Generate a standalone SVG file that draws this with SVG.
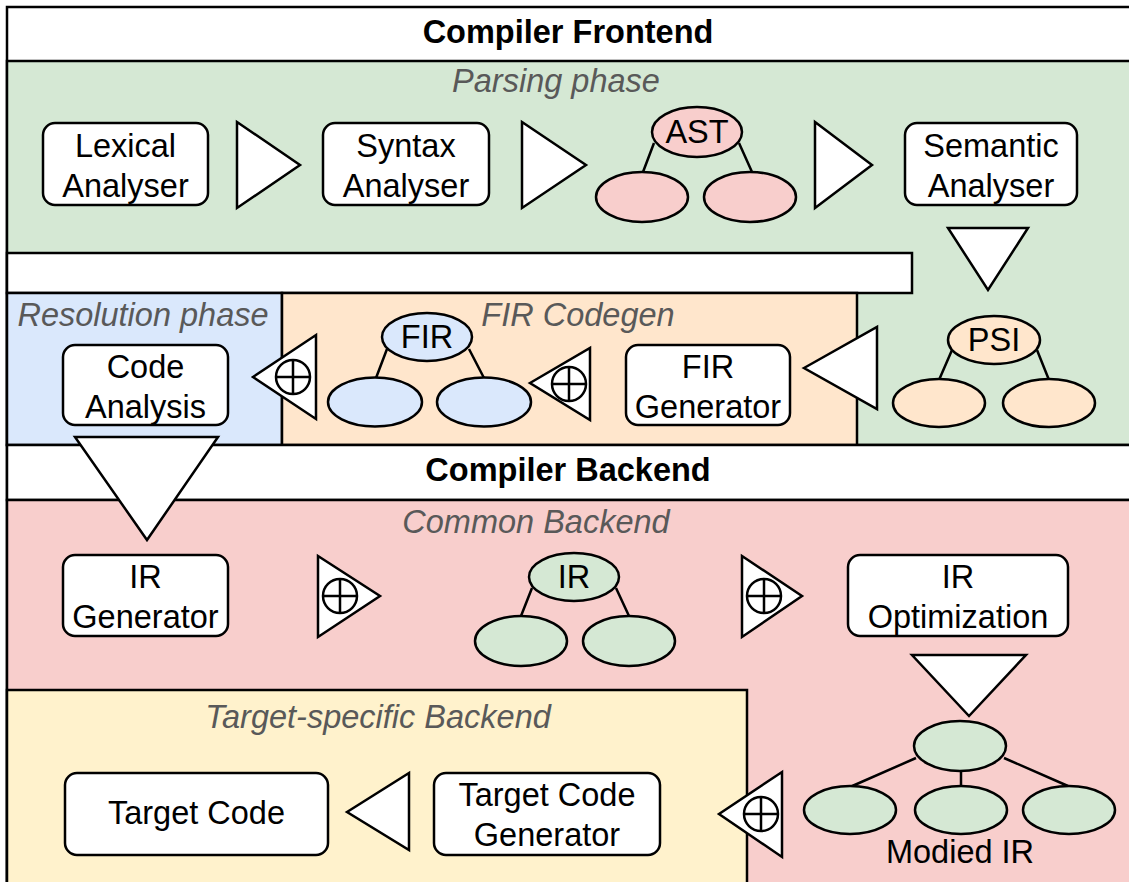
<svg xmlns="http://www.w3.org/2000/svg" width="1129" height="882" viewBox="0 0 1129 882">
<style>
.box{fill:#fff;stroke:#000;stroke-width:2.5}
.tri{fill:#fff;stroke:#000;stroke-width:2.5;stroke-linejoin:miter}
.ln{stroke:#000;stroke-width:2.5;fill:none}
.reg{stroke:#000;stroke-width:2.5}
.t{font-family:"Liberation Sans",Arial,sans-serif;font-size:32.5px;text-anchor:middle;fill:#000}
.it{font-style:italic;fill:#595959}
.b{font-weight:bold}
.g{fill:#d5e8d4}.bl{fill:#dae8fc}.o{fill:#ffe6cc}.r{fill:#f8cecc}.y{fill:#fff2cc}
</style>
<defs>
<g id="plus"><circle cx="0" cy="0" r="17" fill="#fff" stroke="#000" stroke-width="2.5"/><path d="M-17 0H17M0 -17V17" stroke="#000" stroke-width="2.5"/></g>
</defs>
<g id="regions">
<rect x="7" y="7" width="1130" height="880" fill="#fff" class="reg"/>
<rect x="7" y="61" width="1130" height="384" class="reg g"/>
<rect x="7" y="253" width="905" height="40" class="reg" fill="#fff"/>
<rect x="7" y="293" width="275" height="152" class="reg bl"/>
<rect x="282" y="293" width="575" height="152" class="reg o"/>
<rect x="7" y="445" width="1130" height="55" class="reg" fill="#fff"/>
<rect x="7" y="500" width="1130" height="390" class="reg r"/>
<rect x="7" y="690" width="740" height="200" class="reg y"/>
<text class="t b" x="568" y="43">Compiler Frontend</text>
<text class="t it" x="556" y="92">Parsing phase</text>
<text class="t it" x="143" y="326">Resolution phase</text>
<text class="t it" x="578" y="326">FIR Codegen</text>
<text class="t b" x="568" y="481">Compiler Backend</text>
<text class="t it" x="536" y="533">Common Backend</text>
<text class="t it" x="378" y="728">Target-specific Backend</text>
</g>
<g id="lexical"><rect x="43" y="123" width="165" height="82" rx="12" class="box"/><text class="t" x="125.5" y="157">Lexical</text><text class="t" x="125.5" y="197">Analyser</text></g>
<g id="syntax"><rect x="323" y="123" width="166" height="82" rx="12" class="box"/><text class="t" x="406" y="157">Syntax</text><text class="t" x="406" y="197">Analyser</text></g>
<g id="ast"><path class="ln" d="M654 143L643 172M739 143L752 172"/><ellipse cx="697" cy="132" rx="45" ry="25" class="ln r"/><ellipse cx="642" cy="197" rx="46" ry="25" class="ln r"/><ellipse cx="750" cy="197" rx="46" ry="25" class="ln r"/><text class="t" x="697" y="143">AST</text></g>
<g id="semantic"><rect x="905" y="123" width="172" height="82" rx="12" class="box"/><text class="t" x="991" y="157">Semantic</text><text class="t" x="991" y="197">Analyser</text></g>
<g id="psi"><path class="ln" d="M952 350L939 380M1037 350L1049 380"/><ellipse cx="994" cy="340" rx="46" ry="24" class="ln o"/><ellipse cx="939" cy="403" rx="46" ry="24" class="ln o"/><ellipse cx="1049" cy="403" rx="46" ry="24" class="ln o"/><text class="t" x="994" y="351">PSI</text></g>
<g id="firgen"><rect x="626" y="345" width="164" height="80" rx="12" class="box"/><text class="t" x="708" y="378">FIR</text><text class="t" x="708" y="418">Generator</text></g>
<g id="fir"><path class="ln" d="M387 349L376 378M469 349L484 378"/><ellipse cx="427" cy="337" rx="45" ry="24" class="ln bl"/><ellipse cx="375" cy="402" rx="47" ry="24.5" class="ln bl"/><ellipse cx="484" cy="402" rx="47" ry="24.5" class="ln bl"/><text class="t" x="427" y="348">FIR</text></g>
<g id="codeanalysis"><rect x="63" y="345" width="165" height="80" rx="12" class="box"/><text class="t" x="145.5" y="378">Code</text><text class="t" x="145.5" y="418">Analysis</text></g>
<g id="irgen"><rect x="63" y="555" width="165" height="81" rx="12" class="box"/><text class="t" x="145.5" y="588">IR</text><text class="t" x="145.5" y="628">Generator</text></g>
<g id="ir"><path class="ln" d="M532 588L521 616M616 588L629 616"/><ellipse cx="574" cy="577" rx="45" ry="24" class="ln g"/><ellipse cx="521" cy="641" rx="46" ry="25" class="ln g"/><ellipse cx="629" cy="641" rx="46" ry="25" class="ln g"/><text class="t" x="574" y="588">IR</text></g>
<g id="iropt"><rect x="848" y="555" width="220" height="81" rx="12" class="box"/><text class="t" x="958" y="588">IR</text><text class="t" x="958" y="628">Optimization</text></g>
<g id="modir"><path class="ln" d="M916 758L850 787M961 771V786M1004 758L1068 786"/><ellipse cx="960" cy="746" rx="46" ry="25" class="ln g"/><ellipse cx="850" cy="810" rx="46" ry="24" class="ln g"/><ellipse cx="961" cy="810" rx="46" ry="24" class="ln g"/><ellipse cx="1069" cy="810" rx="46" ry="24" class="ln g"/><text class="t" x="960" y="863">Modied IR</text></g>
<g id="tcgen"><rect x="434" y="773" width="226" height="82" rx="12" class="box"/><text class="t" x="547" y="806">Target Code</text><text class="t" x="547" y="846">Generator</text></g>
<g id="tcode"><rect x="65" y="773" width="263" height="82" rx="12" class="box"/><text class="t" x="196.5" y="824">Target Code</text></g>
<g id="connectors">
<polygon class="tri" points="237,122 300,165 237,208"/>
<polygon class="tri" points="522,122 586,165 522,208"/>
<polygon class="tri" points="815,122 872,165 815,208"/>
<polygon class="tri" points="948,228 1028,228 988,290"/>
<polygon class="tri" points="804,368 877,327 877,409"/>
<polygon class="tri" points="530,383 590,348 590,420"/><use href="#plus" x="569" y="384"/>
<polygon class="tri" points="253,377 316,335 316,419"/><use href="#plus" x="293" y="377"/>
<polygon class="tri" points="75,437 218,437 147,540"/>
<polygon class="tri" points="318,556 380,596 318,637"/><use href="#plus" x="340" y="596"/>
<polygon class="tri" points="742,556 802,596 742,637"/><use href="#plus" x="764" y="596"/>
<polygon class="tri" points="912,655 1026,655 969,716"/>
<polygon class="tri" points="347,812 409,773 409,850"/>
<polygon class="tri" points="719,814 782,772 782,857"/><use href="#plus" x="761" y="814"/>
</g>
</svg>
